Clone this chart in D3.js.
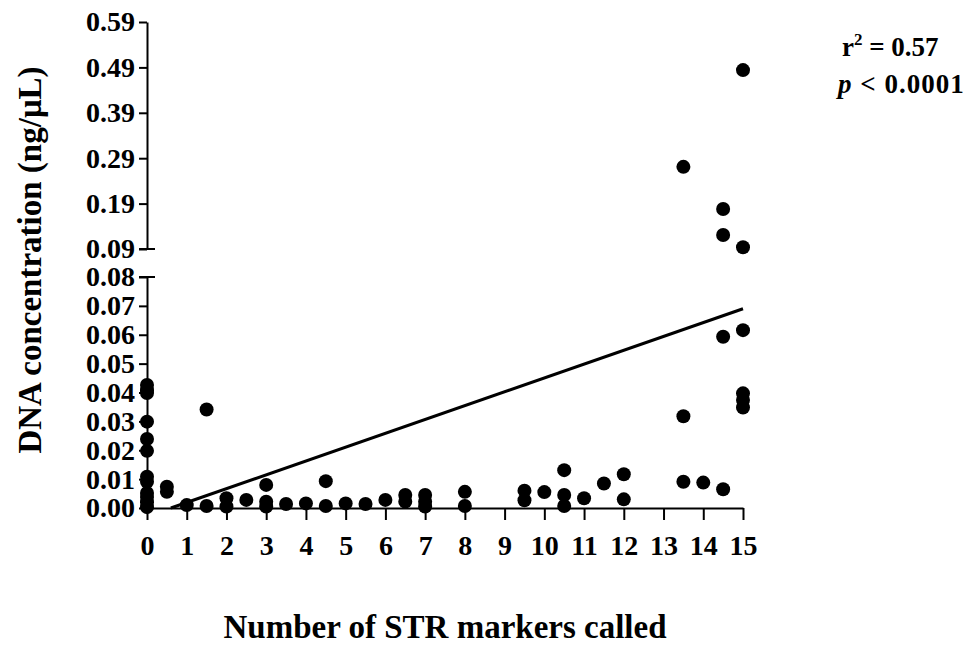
<html>
<head>
<script src="https://d3js.org/d3.v7.min.js"></script>
<style>
  body { margin: 0; background: #fff; }
  text { font-family: 'Liberation Serif', 'Times New Roman', serif; font-weight: bold; }
</style>
</head>
<body>
<svg id="chart" width="973" height="645"></svg>
<script>
// markers called (x) and DNA concentration in ng/uL (y)
var markers = [0,0,0,0,0,0,0,0,0,0,0,0, 0.5,0.5, 1, 1.5,1.5, 2,2, 2.5, 3,3,3, 3.5, 4,
  4.5,4.5, 5, 5.5, 6, 6.5,6.5, 7,7,7, 8,8, 9.5,9.5, 10, 10.5,10.5,10.5, 11, 11.5, 12,12,
  13.5,13.5,13.5, 14, 14.5,14.5,14.5,14.5, 15,15,15,15,15,15];
var conc = [0.0426,0.0408,0.0398,0.0299,0.0239,0.0198,0.0108,0.0091,0.0052,0.0038,0.0020,0.0003,
  0.0074,0.0056, 0.0010, 0.0341,0.0007, 0.0034,0.0005, 0.0028, 0.0080,0.0022,0.0005, 0.0014, 0.0016,
  0.0093,0.0007, 0.0016, 0.0014, 0.0028, 0.0045,0.0022, 0.0045,0.0022,0.0005, 0.0056,0.0007,
  0.0060,0.0027, 0.0055, 0.0131,0.0045,0.0007, 0.0034, 0.0085, 0.0117,0.0030,
  0.271,0.0318,0.0091, 0.0088, 0.178,0.121,0.0593,0.0065, 0.484,0.094,0.0616,0.0397,0.0374,0.0348];

var xTicks = d3.range(0, 16);
var lowTicks = [0, 0.01, 0.02, 0.03, 0.04, 0.05, 0.06, 0.07, 0.08];
var highTicks = [0.09, 0.19, 0.29, 0.39, 0.49, 0.59];

// regression line end points
var fitX = [0.6, 15];
var fitY = [0, 0.069];

var svg = d3.select("#chart");

var x = d3.scaleLinear().domain([0, 15]).range([147, 743]);
var yLow = d3.scaleLinear().domain([0, 0.08]).range([508, 277]);
var yHigh = d3.scaleLinear().domain([0.09, 0.59]).range([249, 22]);
function yPos(v) { return v > 0.085 ? yHigh(v) : yLow(v); }

function styleAxis(g) {
    g.selectAll("path, line").attr("stroke", "#000").attr("stroke-width", 2);
    g.selectAll("text").attr("font-size", 28).attr("font-family", "'Liberation Serif', serif")
      .attr("font-weight", "bold").attr("fill", "#000");
}

var fmt = d3.format(".2f");

svg.append("g").attr("transform", "translate(" + x(0) + ",0)")
    .call(d3.axisLeft(yLow).tickValues(lowTicks).tickFormat(fmt).tickSize(8).tickSizeOuter(0).tickPadding(4))
    .call(styleAxis);

svg.append("g").attr("transform", "translate(" + x(0) + ",0)")
    .call(d3.axisLeft(yHigh).tickValues(highTicks).tickFormat(fmt).tickSize(8).tickSizeOuter(0).tickPadding(4))
    .call(styleAxis);

// break caps
svg.append("line").attr("x1", x(0) - 8).attr("x2", x(0) + 8)
    .attr("y1", yHigh(0.09)).attr("y2", yHigh(0.09)).attr("stroke", "#000").attr("stroke-width", 2);
svg.append("line").attr("x1", x(0) - 8).attr("x2", x(0) + 8)
    .attr("y1", yLow(0.08)).attr("y2", yLow(0.08)).attr("stroke", "#000").attr("stroke-width", 2);

svg.append("g").attr("transform", "translate(0," + yLow(0) + ")")
    .call(d3.axisBottom(x).tickValues(xTicks).tickFormat(d3.format("d")).tickSize(12).tickSizeOuter(0).tickPadding(15))
    .call(styleAxis);

// fit line
svg.append("line")
    .attr("x1", x(fitX[0])).attr("y1", yLow(fitY[0]))
    .attr("x2", x(fitX[1])).attr("y2", yLow(fitY[1]))
    .attr("stroke", "#000").attr("stroke-width", 3);

svg.selectAll("circle.pt").data(markers).enter()
    .append("circle").attr("class", "pt")
    .attr("cx", function (d) { return x(d); })
    .attr("cy", function (d, i) { return yPos(conc[i]); })
    .attr("r", 7)
    .attr("fill", "#000");

// titles
svg.append("text").attr("x", 445).attr("y", 638).attr("text-anchor", "middle")
    .attr("font-size", 33).text("Number of STR markers called");

svg.append("text").attr("transform", "translate(41,260) rotate(-90)").attr("text-anchor", "middle")
    .attr("font-size", 33).text("DNA concentration (ng/μL)");

var r2 = svg.append("text").attr("x", 842).attr("y", 56).attr("font-size", 27);
r2.append("tspan").text("r");
r2.append("tspan").attr("dy", -11).attr("font-size", 17).text("2");
r2.append("tspan").attr("dy", 11).text(" = 0.57");

var pv = svg.append("text").attr("x", 838).attr("y", 93).attr("font-size", 27).attr("letter-spacing", 1);
pv.append("tspan").attr("font-style", "italic").text("p");
pv.append("tspan").text(" < 0.0001");
</script>
</body>
</html>
